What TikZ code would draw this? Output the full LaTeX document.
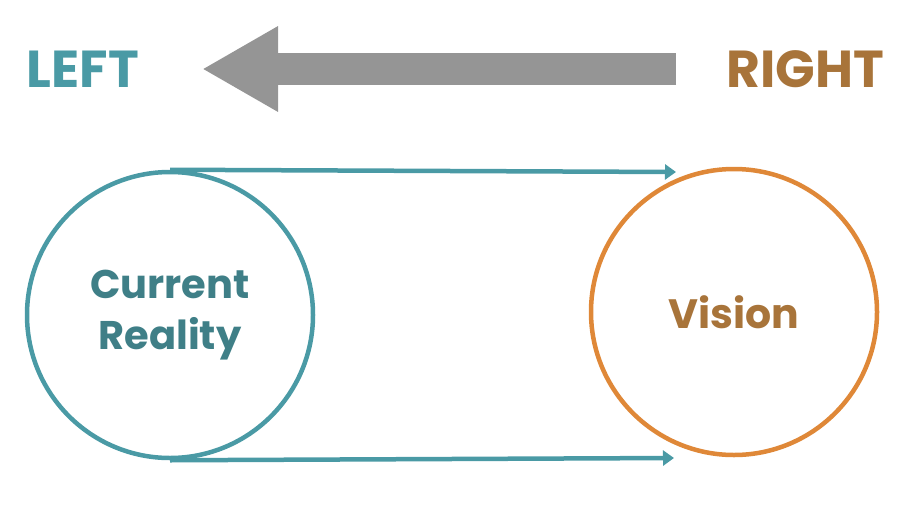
\documentclass[tikz,border=0pt]{standalone}
\usepackage{fontspec}
\setmainfont{Poppins}
\usepackage{tikz}
\usetikzlibrary{arrows.meta,positioning}
\definecolor{teal}{HTML}{4A9AA5}
\definecolor{tealtext}{HTML}{3F7F87}
\definecolor{orange}{HTML}{DF8838}
\definecolor{brown}{HTML}{A8743A}
\definecolor{arrowgray}{HTML}{959595}

\begin{document}
\begin{tikzpicture}[
	x=1pt,y=-1pt,
	wide/.style={line width=32pt,draw=arrowgray,arrows={-Triangle[length=76pt,width=80pt]}},
	ring/.style={circle,draw,line width=4.5pt,minimum size=286pt,inner sep=0pt,align=center,font=\fontsize{40}{51}\selectfont\bfseries},
	directed/.style={draw=teal,line width=4.5pt,arrows={-Triangle[length=11pt,width=15pt]}},
	label/.style={font=\fontsize{52}{60}\selectfont\bfseries}]
	\useasboundingbox (0,0) rectangle (907,509);
	\node[label,text=teal] (left) at (83,69) {LEFT};
	\node[label,text=brown] (right) at (805,69) {RIGHT};
	\coordinate (tail) at (676,69);
	\coordinate (tip) at (202,69);
	\node[ring,draw=teal,text=tealtext] (cur) at (170,315) {Current\\Reality};
	\node[ring,draw=orange,text=brown,font=\fontsize{41}{51}\selectfont\bfseries] (vis) at (734,312) {Vision};
	\coordinate (topend) at (676,172);
	\coordinate (botend) at (674,458);
	\draw[wide] (tail) -- (tip);
	\draw[directed] (cur.north) -- (topend);
	\draw[directed] (cur.south) -- (botend);
\end{tikzpicture}
\end{document}
